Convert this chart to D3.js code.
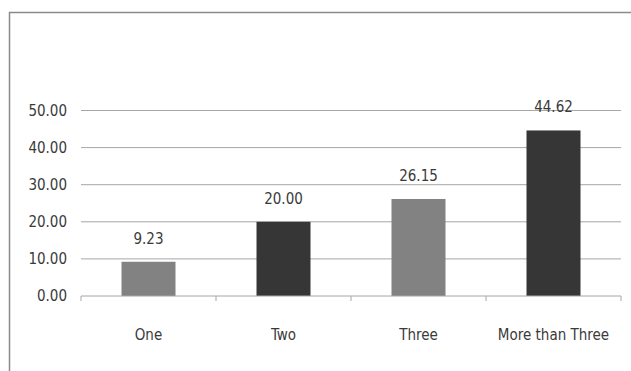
<!doctype html>
<html>
<head>
<meta charset="utf-8"/>
<style>
  body { margin: 0; background: #fff; }
  svg { display: block; }
  text { font-family: "Liberation Sans Narrow", "DejaVu Sans Condensed", sans-serif; fill: #3a3a3a; }
</style>
<script src="https://d3js.org/d3.v7.min.js"></script>
</head>
<body>
<svg width="631" height="371"></svg>
<script>
// chart data
var categories = ["One", "Two", "Three", "More than Three"];
var values = [9.23, 20.00, 26.15, 44.62];
var barColors = ["#828282", "#363636", "#828282", "#363636"];
var yTicks = [0, 10, 20, 30, 40, 50];

var svg = d3.select("svg");

// outer frame (only top and left edges visible in the scan)
svg.append("line").attr("x1", 9).attr("x2", 631).attr("y1", 12.5).attr("y2", 12.5)
    .attr("stroke", "#8a8a8a").attr("stroke-width", 1.5);
svg.append("line").attr("x1", 9.5).attr("x2", 9.5).attr("y1", 12).attr("y2", 371)
    .attr("stroke", "#8a8a8a").attr("stroke-width", 1.5);

var x = d3.scaleBand().domain(categories).range([81, 621]).paddingInner(0.6).paddingOuter(0.3);
var y = d3.scaleLinear().domain([0, 50]).range([296, 110.5]);

// gridlines
svg.append("g").selectAll("line").data(yTicks.slice(1)).join("line")
    .attr("x1", 81).attr("x2", 621)
    .attr("y1", function(d) { return y(d); }).attr("y2", function(d) { return y(d); })
    .attr("stroke", "#a6a6a6").attr("stroke-width", 1);

// bars
svg.append("g").selectAll("rect").data(values).join("rect")
    .attr("x", function(d, i) { return x(categories[i]); })
    .attr("width", x.bandwidth())
    .attr("y", function(d) { return y(d); })
    .attr("height", function(d) { return y(0) - y(d); })
    .attr("fill", function(d, i) { return barColors[i]; });

// value labels
svg.append("g").selectAll("text").data(values).join("text")
    .attr("x", function(d, i) { return x(categories[i]) + x.bandwidth() / 2; })
    .attr("y", function(d) { return y(d) - 18; })
    .attr("text-anchor", "middle")
    .style("font-size", "15px")
    .text(function(d) { return d.toFixed(2); });

// y axis labels
svg.append("g").selectAll("text").data(yTicks).join("text")
    .attr("x", 67)
    .attr("y", function(d) { return y(d) + 5; })
    .attr("text-anchor", "end")
    .style("font-size", "15px")
    .text(function(d) { return d.toFixed(2); });

// x axis
var xAxis = svg.append("g").attr("transform", "translate(0," + y(0) + ")");
xAxis.append("line").attr("x1", 81).attr("x2", 621).attr("stroke", "#a6a6a6");
var bounds = d3.range(categories.length + 1).map(function(i) { return 81 + i * (540 / categories.length); });
xAxis.selectAll(".tk").data(bounds).join("line").attr("class", "tk")
    .attr("x1", function(d) { return d; }).attr("x2", function(d) { return d; })
    .attr("y1", 0).attr("y2", 5).attr("stroke", "#a6a6a6");
xAxis.selectAll(".lbl").data(categories).join("text").attr("class", "lbl")
    .attr("x", function(d) { return x(d) + x.bandwidth() / 2; })
    .attr("y", 44)
    .attr("text-anchor", "middle")
    .style("font-size", "15px")
    .text(function(d) { return d; });
</script>
</body>
</html>
